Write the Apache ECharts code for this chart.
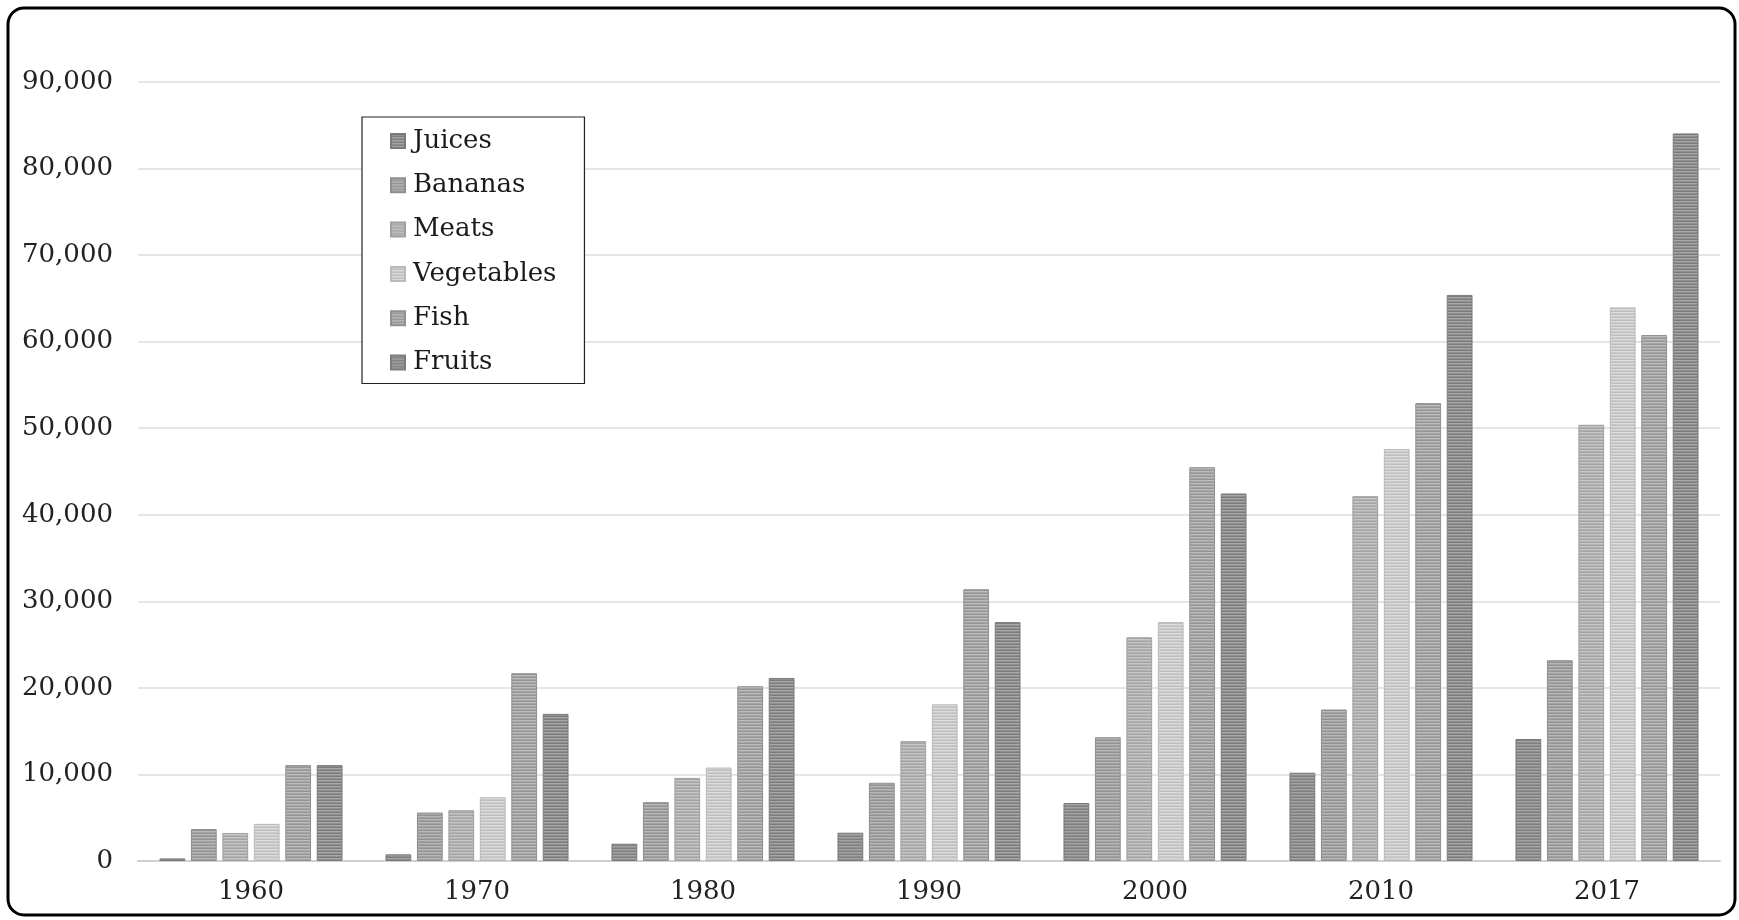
<!DOCTYPE html>
<html>
<head>
<meta charset="utf-8">
<script src="https://cdn.jsdelivr.net/npm/echarts@6/dist/echarts.min.js"></script>
<style>
html,body{margin:0;padding:0;background:#fff;}
#c{width:1739px;height:920px;}
</style>
</head>
<body>
<div id="c"></div>
<script>
const categories = ['1960', '1970', '1980', '1990', '2000', '2010', '2017'];
const juices     = [300, 770, 2000, 3270, 6700, 10200, 14100];
const bananas    = [3700, 5600, 6800, 9040, 14300, 17500, 23200];
const meats      = [3240, 5870, 9600, 13850, 25850, 42150, 50400];
const vegetables = [4290, 7370, 10800, 18100, 27600, 47600, 63960];
const fish       = [11080, 21700, 20200, 31400, 45500, 52900, 60770];
const fruits     = [11080, 17000, 21150, 27600, 42460, 65400, 84060];
const seriesNames = ['Juices', 'Bananas', 'Meats', 'Vegetables', 'Fish', 'Fruits'];
const yTicks = { min: 0, max: 90000, step: 10000 };

function makePattern(base, light, dark) {
  const cv = document.createElement('canvas');
  cv.width = 4; cv.height = 3;
  const ctx = cv.getContext('2d');
  ctx.fillStyle = base; ctx.fillRect(0, 0, 4, 3);
  ctx.fillStyle = light; ctx.fillRect(0, 0, 4, 1);
  ctx.fillStyle = dark; ctx.fillRect(0, 2, 4, 1);
  return { image: cv, repeat: 'repeat' };
}

const styles = [
  { base: '#8f8f8f', light: '#a4a4a4', dark: '#808080', border: '#7a7a7a' },
  { base: '#a2a2a2', light: '#b8b8b8', dark: '#939393', border: '#8e8e8e' },
  { base: '#b2b2b2', light: '#c6c6c6', dark: '#a4a4a4', border: '#a0a0a0' },
  { base: '#cbcbcb', light: '#dcdcdc', dark: '#bebebe', border: '#bababa' },
  { base: '#a5a5a5', light: '#bcbcbc', dark: '#959595', border: '#919191' },
  { base: '#8e8e8e', light: '#a8a8a8', dark: '#7c7c7c', border: '#7c7c7c' }
];
const dataSets = [juices, bananas, meats, vegetables, fish, fruits];

const font = '"DejaVu Serif", "Liberation Serif", serif';

const chart = echarts.init(document.getElementById('c'), null, { renderer: 'canvas' });
chart.setOption({
  animation: false,
  backgroundColor: '#fff',
  grid: { left: 138, right: 19, top: 82, bottom: 59, containLabel: false },
  legend: {
    orient: 'vertical',
    left: 362, top: 117,
    padding: [11, 28, 8, 28],
    itemGap: 18.3,
    itemWidth: 14, itemHeight: 14,
    borderColor: '#222', borderWidth: 1.2,
    backgroundColor: '#fff',
    icon: 'rect',
    textStyle: { fontFamily: font, fontSize: 26, color: '#1a1a1a', padding: [0, 0, 0, 3] },
    data: seriesNames
  },
  xAxis: {
    type: 'category',
    data: categories,
    axisLine: { lineStyle: { color: '#d0d0d0', width: 2 } },
    axisTick: { show: false },
    axisLabel: { fontFamily: font, fontSize: 26, color: '#222', margin: 18 }
  },
  yAxis: {
    type: 'value',
    min: yTicks.min, max: yTicks.max, interval: yTicks.step,
    axisLine: { show: false },
    axisTick: { show: false },
    splitLine: { lineStyle: { color: '#dcdcdc', width: 1.5 } },
    axisLabel: {
      fontFamily: font, fontSize: 26, color: '#222', margin: 25,
      formatter: v => v.toLocaleString('en-US')
    }
  },
  series: seriesNames.map((name, i) => ({
    name: name,
    type: 'bar',
    data: dataSets[i],
    barGap: '22%',
    barCategoryGap: '19%',
    itemStyle: {
      color: makePattern(styles[i].base, styles[i].light, styles[i].dark),
      borderColor: styles[i].border,
      borderWidth: 1
    }
  })),
  graphic: [{
    type: 'rect',
    silent: true,
    z: 100,
    shape: { x: 8, y: 8, width: 1727, height: 907, r: 16 },
    style: { fill: 'none', stroke: '#000', lineWidth: 3 }
  }]
});
</script>
</body>
</html>
